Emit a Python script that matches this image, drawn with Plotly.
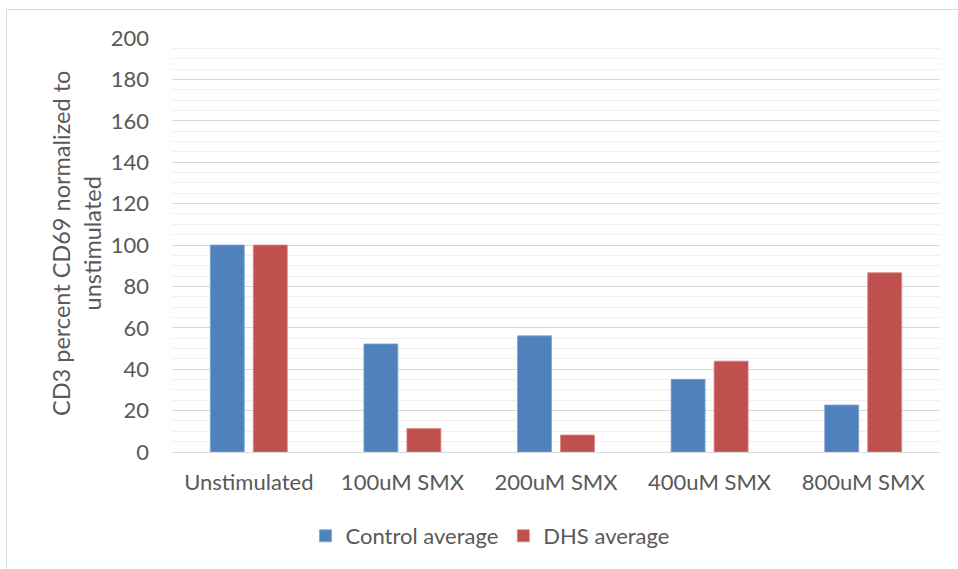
import plotly.graph_objects as go

# Stimulation conditions and the two averaged series
categories = ["Unstimulated", "100uM SMX", "200uM SMX", "400uM SMX", "800uM SMX"]
control_avg = [100, 52.2, 56.1, 35.1, 22.7]
dhs_avg = [100, 11.3, 8.2, 43.9, 86.6]
y_ticks = [0, 20, 40, 60, 80, 100, 120, 140, 160, 180, 200]

FONT = "Lato"
TEXT = "#595959"
W, H = 958, 569
ML, MR, MT, MB = 172, 18, 38, 117
PW, PH = W - ML - MR, H - MT - MB


def px_x(px):
    return (px - ML) / PW


def px_y(py):
    return (H - MB - py) / PH


fig = go.Figure()
fig.add_trace(go.Bar(
    name="Control average", x=categories, y=control_avg,
    marker=dict(color="#4F81BD", line=dict(color="#7FA3D3", width=0.8)),
))
fig.add_trace(go.Bar(
    name="DHS average", x=categories, y=dhs_avg,
    marker=dict(color="#C0504D", line=dict(color="#D88583", width=0.8)),
))

fig.update_layout(
    width=W, height=H,
    margin=dict(l=ML, r=MR, t=MT, b=MB),
    paper_bgcolor="white", plot_bgcolor="white",
    font=dict(family=FONT, size=22, color=TEXT),
    barmode="group", bargap=0.44, bargroupgap=0.21,
    showlegend=True,
    legend=dict(
        orientation="h", x=px_x(490), xanchor="center",
        y=px_y(536), yanchor="middle",
        font=dict(family=FONT, size=22, color=TEXT),
        itemwidth=30, traceorder="normal",
    ),
    xaxis=dict(
        showgrid=False, showline=True, linecolor="#d9d9d9", linewidth=1,
        ticks="", ticklabelstandoff=11,
        tickfont=dict(family=FONT, size=22, color=TEXT),
    ),
    yaxis=dict(
        range=[0, 200], tickvals=y_ticks, ticks="",
        showgrid=True, gridcolor="#d9d9d9", gridwidth=1,
        zeroline=False, showline=False,
        minor=dict(dtick=5, showgrid=True, gridcolor="#f0f0f0", gridwidth=1),
        ticklabelstandoff=22,
        tickfont=dict(family=FONT, size=22, color=TEXT),
    ),
)

# Rotated two-line y axis title
fig.add_annotation(
    text="CD3 percent CD69 normalized to<br>unstimulated",
    xref="paper", yref="paper", x=px_x(76), y=px_y(244),
    xanchor="center", yanchor="middle", textangle=-90,
    showarrow=False, font=dict(family=FONT, size=23.5, color=TEXT),
)

# Chart area border
fig.add_shape(
    type="rect", xref="paper", yref="paper",
    x0=px_x(6.5), x1=px_x(W + 5), y0=px_y(H + 5), y1=px_y(9.5),
    line=dict(color="#d9d9d9", width=1), layer="below",
)

fig.write_html("out.html")
